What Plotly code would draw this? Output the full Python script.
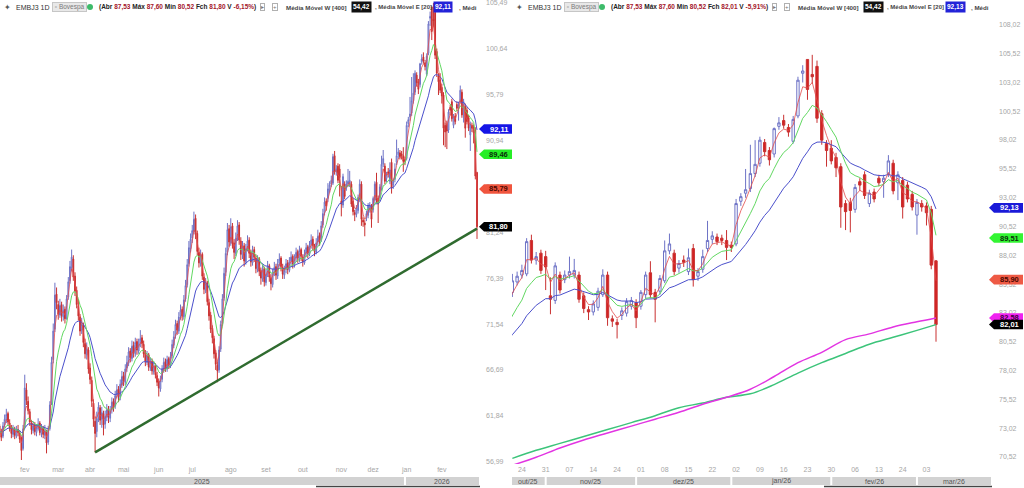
import pandas as pd
import plotly.graph_objects as go

# ---------------- data ----------------
holidays = ["2025-03-03", "2025-03-04", "2025-04-18", "2025-04-21", "2025-05-01", "2025-06-19",
            "2025-11-20", "2025-12-24", "2025-12-25", "2025-12-31", "2026-01-01", "2026-02-16",
            "2026-02-17"]

opens = [
    60.8, 60.1, 59.7, 60.9, 61.4, 62.1, 61.1, 60.7, 59.9, 60.5, 59.7, 60.4, 60.0, 59.5, 58.4,
    60.7, 64.6, 63.4, 62.3, 61.1, 60.3, 60.9, 60.1, 60.5, 61.1, 60.0, 60.6, 59.8, 60.2, 59.1, 60.5,
    63.2, 67.8, 71.0, 74.7, 73.6, 72.5, 73.6, 72.3, 73.1, 72.2, 74.4, 76.1, 77.5, 78.4, 76.6, 75.1,
    73.5, 72.3, 70.9, 71.4, 69.5, 68.3, 68.8, 66.9, 65.6, 63.2, 61.3, 60.2,
    61.7, 62.7, 61.5, 62.1, 61.0, 61.7, 62.6, 61.6, 62.5, 63.4, 62.9, 64.1, 64.7, 63.8, 65.1, 66.1,
    65.4, 66.9, 67.4, 68.7, 67.9, 69.3, 68.4, 69.7, 68.7, 69.5,
    70.1, 69.4, 68.5, 67.5, 68.3, 66.9, 67.6, 66.5, 67.2, 66.1, 65.5, 64.7, 65.7, 66.7, 67.6, 66.8,
    67.9, 67.1, 68.2, 69.3, 70.3, 71.6, 70.8, 72.4, 73.1, 72.3, 74.2, 75.7, 77.9, 79.5, 80.6, 81.3,
    82.7, 81.1, 79.1, 77.9, 78.9, 76.5, 75.1, 75.9, 73.8, 72.5, 71.1, 70.0, 68.5, 67.2,
    66.7, 68.9, 71.6, 74.3, 77.0, 79.1, 81.6, 80.1, 81.9, 80.1, 79.0, 80.7, 82.0, 80.3, 78.8, 79.8,
    78.1, 79.6, 80.4, 79.1, 78.0, 79.4, 78.5, 77.3, 78.4, 77.2, 76.3, 77.4, 75.9, 76.9, 77.7, 76.4,
    75.7, 77.0, 77.6, 76.6, 78.0, 78.5, 77.5,
    76.7, 77.3, 78.0, 77.2, 78.2, 78.7, 77.8, 78.5, 79.2, 78.4, 79.4, 78.6, 78.0, 79.0, 79.7, 78.9,
    79.9, 80.5, 79.7, 79.1, 80.2, 80.9, 80.4, 82.0, 83.3, 84.5,
    84.8, 85.7, 86.3, 86.4, 89.3, 87.6, 88.2, 87.9, 84.5, 84.1, 86.3, 85.9, 86.3, 86.3, 86.3, 84.5,
    83.3, 83.1, 83.5, 84.6, 86.3, 82.5, 82.2, 82.8, 83.0, 83.6, 83.9, 83.6, 84.6, 86.5, 84.8, 84.9,
    85.8, 88.4, 88.2, 86.9, 87.6, 86.6, 88.6, 86.2, 86.8, 88.6, 89.4, 89.6, 89.5, 89.3, 88.9, 89.0,
    92.7, 93.4, 93.8, 95.1, 96.0, 97.8, 97.1, 96.8, 99.2, 99.7, 99.1, 97.9, 100.1, 103.8, 105.0,
    103.7, 104.4, 100.3, 97.7, 97.3, 96.5, 95.7, 92.5, 92.6, 92.0, 94.4, 95.0, 92.5, 93.5, 94.7,
    94.4, 95.1, 96.0, 94.3, 94.5, 94.1, 93.3, 91.5, 92.5, 92.3, 92.0, 87.53]

highs = [
    61.0, 60.5, 61.2, 62.0, 62.6, 62.3, 61.5, 60.9, 60.9, 60.7, 60.8, 60.9, 60.3, 59.7, 60.9,
    66.2, 65.3, 63.9, 62.6, 61.4, 61.3, 61.2, 61.0, 61.6, 61.3, 61.0, 60.8, 60.9, 60.4, 60.8, 63.4,
    68.1, 71.6, 75.9, 75.4, 74.0, 74.2, 73.9, 73.6, 73.4, 74.6, 76.5, 78.2, 79.4, 78.8, 77.0, 75.5,
    74.1, 72.6, 72.2, 71.7, 70.0, 69.6, 69.1, 67.4, 66.0, 63.6, 61.8, 62.3,
    63.3, 63.0, 62.8, 62.4, 62.4, 63.1, 62.9, 62.9, 63.8, 63.7, 64.5, 65.2, 65.0, 65.7, 66.6, 66.5,
    67.3, 68.2, 69.1, 69.0, 69.8, 69.7, 70.1, 70.0, 70.0, 70.9,
    70.4, 69.8, 68.8, 68.7, 68.5, 68.0, 67.9, 67.6, 67.4, 66.5, 65.8, 66.1, 67.2, 68.0, 67.9, 68.2,
    68.1, 68.6, 69.9, 70.8, 72.0, 71.9, 72.8, 73.6, 73.4, 74.6, 76.2, 78.4, 80.3, 81.1, 82.0, 83.4,
    83.1, 81.4, 79.6, 79.4, 79.1, 76.9, 76.4, 76.1, 74.2, 72.8, 71.4, 70.3, 68.8, 67.6,
    69.2, 71.9, 74.7, 77.5, 79.6, 82.2, 82.0, 82.7, 82.2, 80.5, 81.2, 82.5, 82.3, 80.7, 80.3, 80.1,
    80.0, 80.9, 80.7, 79.4, 79.8, 79.7, 78.9, 78.8, 78.6, 77.5, 77.8, 77.6, 77.3, 78.2, 77.9, 76.8,
    77.4, 78.1, 77.9, 78.4, 79.0, 78.7, 77.9,
    77.7, 78.4, 78.3, 78.6, 79.2, 78.9, 78.9, 79.6, 79.4, 79.8, 79.6, 78.9, 79.4, 80.1, 79.9, 80.3,
    81.0, 80.8, 80.0, 80.6, 81.5, 81.2, 82.4, 83.7, 84.9, 84.8,
    86.4, 86.6, 87.2, 89.5, 89.8, 88.3, 88.5, 88.4, 86.1, 87.4, 86.6, 86.7, 87.9, 87.7, 86.6, 84.8,
    83.6, 84.1, 85.2, 86.8, 86.6, 82.8, 82.5, 83.5, 84.3, 84.4, 84.2, 85.0, 86.6, 87.5, 85.1, 86.3,
    89.3, 89.9, 88.5, 87.6, 88.0, 88.6, 89.0, 86.9, 88.5, 91.0, 90.1, 89.9, 89.8, 90.2, 89.2, 92.9,
    93.4, 95.5, 97.6, 98.0, 98.3, 98.1, 97.4, 99.1, 100.0, 100.2, 99.4, 100.1, 103.5, 104.5, 105.0,
    105.4, 104.9, 100.6, 98.0, 98.0, 96.9, 96.0, 92.8, 93.0, 94.2, 94.7, 95.3, 93.7, 93.8, 95.0,
    95.0, 96.7, 96.3, 95.3, 94.8, 94.4, 93.6, 92.9, 92.8, 92.6, 92.3, 87.60]

lows = [
    59.4, 59.2, 59.5, 60.6, 61.1, 60.9, 60.2, 59.5, 59.6, 59.4, 59.5, 59.7, 59.0, 57.2, 58.2,
    60.5, 63.0, 62.0, 60.8, 59.9, 60.0, 59.8, 59.7, 60.3, 59.8, 59.6, 59.5, 59.4, 57.9, 58.8, 60.3,
    63.0, 67.4, 70.7, 73.1, 72.0, 72.2, 71.8, 71.9, 71.6, 72.0, 74.1, 75.8, 77.1, 76.1, 74.5, 73.2,
    71.9, 70.3, 70.5, 69.1, 67.9, 67.8, 66.3, 65.2, 62.8, 60.7, 58.0, 59.6,
    61.2, 60.9, 60.6, 59.8, 60.5, 61.3, 61.1, 61.2, 62.1, 62.3, 62.6, 63.7, 63.3, 63.5, 64.8, 65.0,
    65.1, 66.5, 67.1, 67.5, 67.6, 68.0, 68.1, 68.3, 68.4, 69.1,
    69.0, 68.0, 67.1, 67.2, 66.6, 66.6, 66.2, 66.2, 65.8, 65.0, 63.9, 64.4, 65.4, 66.4, 66.5, 66.5,
    66.8, 66.9, 67.9, 69.0, 70.0, 70.4, 70.5, 72.0, 71.9, 72.0, 73.9, 75.4, 77.6, 79.1, 80.1, 81.0,
    80.5, 78.8, 77.5, 77.6, 76.2, 74.7, 74.8, 73.5, 71.9, 70.6, 69.5, 67.9, 66.7, 65.4,
    66.4, 68.6, 71.3, 74.0, 76.6, 78.8, 79.7, 79.8, 79.5, 78.4, 78.7, 80.3, 79.9, 78.3, 78.4, 77.6,
    77.8, 79.2, 78.5, 77.6, 77.7, 78.1, 76.9, 77.0, 76.6, 75.7, 76.0, 75.5, 75.6, 76.5, 76.0, 75.1,
    75.4, 76.6, 76.2, 76.3, 77.6, 77.1, 76.3,
    76.3, 76.9, 76.8, 77.0, 77.8, 77.4, 77.5, 78.1, 78.0, 78.1, 78.2, 77.6, 77.8, 78.6, 78.5, 78.7,
    79.5, 79.3, 78.7, 78.9, 79.8, 79.8, 80.2, 81.7, 83.0, 83.5,
    84.4, 85.4, 86.0, 86.2, 87.3, 87.2, 86.4, 85.0, 82.9, 83.8, 84.7, 85.6, 86.0, 86.0, 83.9, 83.0,
    82.4, 82.8, 83.2, 84.4, 81.9, 81.8, 80.8, 82.4, 82.7, 83.3, 81.7, 83.3, 84.3, 84.3, 82.2, 84.6,
    85.6, 88.1, 86.3, 86.5, 87.0, 86.3, 85.3, 85.8, 86.5, 88.3, 89.0, 88.9, 88.9, 87.6, 88.3, 88.8,
    92.3, 93.0, 93.5, 94.8, 95.7, 96.6, 95.8, 96.5, 98.9, 99.0, 98.3, 97.7, 99.9, 103.0, 101.5,
    102.9, 99.5, 97.6, 95.7, 95.9, 94.8, 90.4, 90.2, 90.0, 91.7, 93.6, 92.9, 92.2, 92.6, 94.0,
    93.0, 94.8, 93.3, 92.8, 91.2, 92.6, 91.9, 89.8, 91.8, 90.6, 86.8, 80.52]

closes = [
    60.2, 59.6, 60.8, 61.5, 62.0, 61.2, 60.6, 60.0, 60.4, 59.8, 60.3, 60.1, 59.4, 58.2, 60.5,
    64.8, 63.5, 62.4, 61.2, 60.4, 60.8, 60.2, 60.6, 61.0, 60.1, 60.5, 59.9, 60.3, 59.0, 60.4, 63.0,
    67.5, 70.8, 74.6, 73.8, 72.6, 73.5, 72.4, 73.0, 72.1, 74.2, 76.0, 77.6, 78.6, 76.5, 75.0, 73.6,
    72.4, 70.8, 71.5, 69.6, 68.4, 68.9, 66.8, 65.7, 63.4, 61.5, 60.0, 61.6,
    62.8, 61.4, 62.2, 60.9, 61.8, 62.5, 61.7, 62.4, 63.3, 62.8, 64.0, 64.6, 63.9, 65.2, 66.0, 65.5,
    66.8, 67.5, 68.6, 68.0, 69.2, 68.5, 69.6, 68.8, 69.4, 70.0,
    69.5, 68.4, 67.6, 68.2, 67.0, 67.5, 66.6, 67.1, 66.2, 65.4, 64.8, 65.6, 66.8, 67.5, 66.9, 67.8,
    67.2, 68.1, 69.4, 70.2, 71.5, 70.9, 72.3, 73.0, 72.4, 74.1, 75.6, 77.8, 79.6, 80.5, 81.4, 82.6,
    81.0, 79.2, 78.0, 78.8, 76.6, 75.2, 75.8, 73.9, 72.4, 71.0, 70.1, 68.4, 67.3, 66.6,
    68.8, 71.5, 74.2, 76.9, 79.0, 81.5, 80.2, 81.8, 80.0, 79.1, 80.6, 81.9, 80.4, 78.9, 79.7, 78.2,
    79.5, 80.3, 79.0, 78.1, 79.3, 78.6, 77.4, 78.3, 77.1, 76.4, 77.3, 76.0, 76.8, 77.6, 76.5, 75.8,
    76.9, 77.5, 76.7, 77.9, 78.4, 77.6, 76.8,
    77.2, 77.9, 77.3, 78.1, 78.6, 77.9, 78.4, 79.1, 78.5, 79.3, 78.7, 78.1, 78.9, 79.6, 79.0, 79.8,
    80.4, 79.8, 79.2, 80.1, 80.8, 80.3, 81.9, 83.2, 84.4, 84.0,
    85.8, 86.2, 86.7, 89.2, 87.6, 87.9, 86.7, 87.0, 84.2, 87.1, 85.0, 86.3, 86.6, 86.7, 84.2, 83.4,
    83.1, 83.8, 84.9, 86.3, 82.6, 82.3, 82.0, 83.2, 84.0, 84.1, 82.6, 84.8, 86.3, 84.6, 84.2, 86.0,
    88.4, 89.0, 86.6, 87.3, 87.4, 87.8, 85.9, 86.6, 87.9, 89.3, 89.7, 89.2, 89.3, 88.7, 88.7, 92.5,
    93.1, 93.7, 95.1, 95.9, 98.0, 97.0, 96.3, 99.0, 99.5, 99.3, 98.7, 99.8, 103.2, 104.0, 102.4,
    103.5, 99.9, 98.0, 97.1, 96.2, 95.6, 92.2, 91.8, 91.9, 93.9, 94.1, 93.2, 93.4, 92.9, 94.3,
    94.7, 96.2, 93.6, 95.0, 92.2, 92.9, 92.2, 92.6, 92.2, 91.7, 87.16, 82.01]

last_close_left = 81.80   # left snapshot shows Fch 81,80

long_ma_dates = ["2025-10-22", "2025-10-29", "2025-11-05", "2025-11-12", "2025-11-19", "2025-11-27",
                 "2025-12-04", "2025-12-11", "2025-12-18", "2025-12-29", "2026-01-07", "2026-01-14",
                 "2026-01-21", "2026-01-28", "2026-02-04", "2026-02-11", "2026-02-20", "2026-02-27",
                 "2026-03-05"]
long_ma_green = [70.4, 71.1, 71.7, 72.3, 72.9, 73.5, 74.1, 74.8, 75.2, 75.7, 76.0, 76.8, 77.8, 78.7,
                 79.5, 80.3, 80.9, 81.5, 82.0]
long_ma_magenta = [69.8, 70.5, 71.3, 72.0, 72.6, 73.2, 73.8, 74.4, 75.1, 75.7, 76.4, 77.5, 78.7, 79.6,
                   80.7, 81.2, 81.8, 82.25, 82.58]

trend_dates = ["2025-04-04", "2026-03-05"]
trend_values = [58.0, 81.6]

months_pt = ["jan", "fev", "mar", "abr", "mai", "jun", "jul", "ago", "set", "out", "nov", "dez"]
left_tick_months = ["2025-02", "2025-03", "2025-04", "2025-05", "2025-06", "2025-07", "2025-08",
                    "2025-09", "2025-10", "2025-11", "2025-12", "2026-01", "2026-02"]
right_tick_dates = ["2025-10-24", "2025-10-31", "2025-11-07", "2025-11-14", "2025-11-24", "2025-12-01",
                    "2025-12-08", "2025-12-15", "2025-12-22", "2026-01-02", "2026-01-09", "2026-01-16",
                    "2026-01-23", "2026-01-30", "2026-02-06", "2026-02-13", "2026-02-24", "2026-03-03"]
right_band_months = ["2025-11", "2025-12", "2026-01", "2026-02", "2026-03"]
right_band_labels = ["out/25", "nov/25", "dez/25", "jan/26", "fev/26", "mar/26"]
left_band_labels = ["2025", "2026"]

left_yticks = [56.99, 61.84, 66.69, 71.54, 76.39, 81.24, 86.09, 90.94, 95.79, 100.64, 105.49]
right_yticks = [70.52, 73.02, 75.52, 78.02, 80.52, 83.02, 85.52, 88.02, 90.52, 93.02, 95.52, 98.02,
                100.52, 103.02, 105.52, 108.02]

left_tag_values = [92.11, 89.46, 85.79, 81.80]
right_tag_values = [92.13, 89.51, 85.90, 82.58, 82.01]

# ---------------- geometry helpers ----------------
W, H = 1024, 488
BOT = 464
FONT = "Liberation Sans"

def fx(p):
    return p / W

def fy(p):
    return 1 - p / H

L_X_END, L_STEP = 477.0, 1.675
R_X_END, R_STEP = 936.0, 4.76

def ly(v):
    return 462 - (v - 56.99) * 9.48

def ry(v):
    return 457 - (v - 70.52) * 11.53

days = pd.bdate_range("2025-01-13", "2026-03-05")
days = days[~days.isin(pd.to_datetime(holidays))]
n = len(closes)
days = days[len(days) - n:]
idx = list(range(n))
pos = {d: k for k, d in enumerate(days)}
last = n - 1

def lx(i):
    return L_X_END - (last - i) * L_STEP

def rx(i):
    return R_X_END - (last - i) * R_STEP

closes_left = closes[:-1] + [last_close_left]

def ema(vals, span):
    return pd.Series(vals).ewm(span=span, adjust=False).mean().tolist()

fig = go.Figure()

inc = dict(line=dict(color="#6d72c6", width=1), fillcolor="#ffffff")
dec = dict(line=dict(color="#c93030", width=1), fillcolor="#d32222")

# left panel
fig.add_trace(go.Candlestick(x=idx, open=opens, high=highs, low=lows, close=closes_left,
                             increasing=inc, decreasing=dec, xaxis="x", yaxis="y",
                             hoverinfo="skip", whiskerwidth=0))
for span, col, w in [(20, "#4b50cc", 1), (9, "#62d862", 1), (3, "#e24a4a", 0.8)]:
    fig.add_trace(go.Scatter(x=idx, y=ema(closes_left, span), mode="lines",
                             line=dict(color=col, width=w), xaxis="x", yaxis="y", hoverinfo="skip"))
fig.add_trace(go.Scatter(x=[pos[pd.Timestamp(d)] for d in trend_dates], y=trend_values, mode="lines",
                         line=dict(color="#2f6b2f", width=2.5), xaxis="x", yaxis="y", hoverinfo="skip"))

# right panel
ma_x = [pos[pd.Timestamp(d)] for d in long_ma_dates]
fig.add_trace(go.Scatter(x=ma_x, y=long_ma_green, mode="lines", line=dict(color="#3cc47a", width=1.5, shape="spline"),
                         xaxis="x2", yaxis="y2", hoverinfo="skip"))
fig.add_trace(go.Scatter(x=ma_x, y=long_ma_magenta, mode="lines", line=dict(color="#e234e2", width=1.5, shape="spline"),
                         xaxis="x2", yaxis="y2", hoverinfo="skip"))
fig.add_trace(go.Candlestick(x=idx, open=opens, high=highs, low=lows, close=closes,
                             increasing=inc, decreasing=dec, xaxis="x2", yaxis="y2",
                             hoverinfo="skip", whiskerwidth=0))
for span, col, w in [(20, "#4b50cc", 1), (9, "#62d862", 1), (3, "#e24a4a", 0.8)]:
    fig.add_trace(go.Scatter(x=idx, y=ema(closes, span), mode="lines",
                             line=dict(color=col, width=w), xaxis="x2", yaxis="y2", hoverinfo="skip"))

fmt = lambda v: f"{v:.2f}".replace(".", ",")

month_first = {}
for k, d in enumerate(days):
    month_first.setdefault(d.strftime("%Y-%m"), k)
lt_vals = [month_first[m] for m in left_tick_months]
lt_text = [months_pt[int(m[5:]) - 1] for m in left_tick_months]
rt_vals = [pos[pd.Timestamp(d)] for d in right_tick_dates]
rt_text = [d[8:] for d in right_tick_dates]

tickfont = dict(family=FONT, size=7, color="#a6a6a6")
ydom = [fy(BOT), 1]
axis_common = dict(showgrid=False, zeroline=False, showline=False, ticks="", tickfont=tickfont,
                   fixedrange=True, ticklabeloverflow="allow")

fig.update_layout(
    width=W, height=H, margin=dict(l=0, r=0, t=0, b=0), template="none",
    paper_bgcolor="white", plot_bgcolor="white", showlegend=False,
    xaxis=dict(domain=[0, fx(482)], anchor="y",
               range=[last - L_X_END / L_STEP, last + (482 - L_X_END) / L_STEP],
               tickvals=lt_vals, ticktext=lt_text, rangeslider=dict(visible=False), **axis_common),
    yaxis=dict(domain=ydom, anchor="x", side="right",
               range=[56.99 - (BOT - 462) / 9.48, 56.99 + 462 / 9.48],
               tickvals=left_yticks, ticktext=[fmt(v) for v in left_yticks], ticklabelstandoff=3,
               **axis_common),
    xaxis2=dict(domain=[fx(512), fx(990)], anchor="y2",
                range=[last - (R_X_END - 512) / R_STEP, last + (990 - R_X_END) / R_STEP],
                tickvals=rt_vals, ticktext=rt_text, rangeslider=dict(visible=False), **axis_common),
    yaxis2=dict(domain=ydom, anchor="x2", side="right",
                range=[70.52 - (BOT - 457) / 11.53, 70.52 + 457 / 11.53],
                tickvals=right_yticks, ticktext=[fmt(v) for v in right_yticks], ticklabelstandoff=8,
                **axis_common),
)

shapes = []
annots = []

def note(x, y, text, size, color, xanchor="center"):
    annots.append(dict(x=fx(x), y=fy(y), xref="paper", yref="paper", xanchor=xanchor, yanchor="middle",
                       text=text, showarrow=False, font=dict(family=FONT, size=size, color=color)))

# bottom bands
BAND_Y0, BAND_Y1 = 477, 485
def band(x0, x1, label):
    shapes.append(dict(type="rect", xref="paper", yref="paper", x0=fx(x0), x1=fx(x1),
                       y0=fy(BAND_Y1), y1=fy(BAND_Y0), fillcolor="#d2d2d2", line=dict(width=0), layer="below"))
    note((x0 + x1) / 2, (BAND_Y0 + BAND_Y1) / 2, label, 7, "#555555")

b_left = lx(month_first["2026-01"] - 1)
band(0, b_left - 1, left_band_labels[0])
band(b_left + 1, 479, left_band_labels[1])

edges = [512] + [rx(month_first[m] - 1) for m in right_band_months] + [992]
for j, lab in enumerate(right_band_labels):
    band(edges[j] + (1 if j > 0 else 0), edges[j + 1] - 1, lab)

for x0, x1 in [(316, 480), (824, 992)]:
    shapes.append(dict(type="line", xref="paper", yref="paper", x0=fx(x0), x1=fx(x1), y0=fy(486.5),
                       y1=fy(486.5), line=dict(color="#444444", width=1.5)))

# price tags
def tag(tip, x0, x1, yc, fill, textcol, text):
    h = 4.8
    path = (f"M {fx(tip)},{fy(yc)} L {fx(x0)},{fy(yc - h)} L {fx(x1)},{fy(yc - h)} "
            f"L {fx(x1)},{fy(yc + h)} L {fx(x0)},{fy(yc + h)} Z")
    shapes.append(dict(type="path", xref="paper", yref="paper", path=path, fillcolor=fill,
                       line=dict(width=0), layer="above"))
    note((x0 + x1) / 2 + 0.5, yc, f"<b>{text}</b>", 7.5, textcol)

left_tag_style = [("#1515e6", "#ffffff"), ("#26ee26", "#0a2e0a"), ("#f0553e", "#4a0800"), ("#000000", "#ffffff")]
for v, (fc, tc) in zip(left_tag_values, left_tag_style):
    tag(479, 484, 512, ly(v), fc, tc, fmt(v))
right_tag_style = [("#1a1ad8", "#ffffff"), ("#33f533", "#0a2e0a"), ("#ee5a45", "#4a0800"),
                   ("#f022f0", "#3a003a"), ("#000000", "#ffffff")]
for v, (fc, tc) in zip(right_tag_values, right_tag_style):
    tag(989, 994, 1023, ry(v), fc, tc, fmt(v))

# headers
def header(off, fch, var, ema20):
    y = fy(7)
    def add(x, text, color="#333333", size=6.5, bg=None, border=None, pad=0):
        a = dict(x=fx(off + x), y=y, xref="paper", yref="paper", xanchor="left", yanchor="middle",
                 text=text, showarrow=False, font=dict(family=FONT, size=size, color=color))
        if bg:
            a["bgcolor"] = bg
            a["borderpad"] = pad
        if border:
            a["bordercolor"] = border
            a["borderwidth"] = 1
        annots.append(a)
    add(2, "✦", "#555555", 8)
    add(14, "EMBJ3 1D", "#333333", 7)
    add(52, " ▫ Bovespa ", "#7a7a7a", 6.5, bg="#e8e8e8", border="#c6c6c6", pad=0)
    shapes.append(dict(type="circle", xref="paper", yref="paper", x0=fx(off + 87), x1=fx(off + 93),
                       y0=fy(10), y1=fy(4), fillcolor="#3dbb6a", line=dict(width=0)))
    r = "<span style='color:#a3142a'>"
    add(97, f"<b>(Abr {r}87,53</span> Máx {r}87,60</span> Mín {r}80,52</span> Fch {r}{fch}</span> "
            f"V {r}{var}</span>)</b>", "#222222", 6.5)
    add(260, "▸", "#777777", 6, bg="#ffffff", border="#b0b0b0", pad=0)
    add(272, "+", "#777777", 6, bg="#ffffff", border="#b0b0b0", pad=0)
    add(284, "<b>Média Móvel W [400]</b>", "#444444", 6.2)
    add(351, "<b>54,42</b>", "#ffffff", 6.5, bg="#111111", pad=1)
    add(373, "<b>, Média Móvel E [20]</b>", "#444444", 6.0)
    add(433, f"<b>{ema20}</b>", "#ffffff", 6.5, bg="#2323d8", pad=1)
    add(457, "<b>, Médi</b>", "#444444", 6.2)

header(0, "81,80", "-6,15%", "92,11")
header(512, "82,01", "-5,91%", "92,13")

fig.update_layout(shapes=shapes, annotations=annots)
fig.write_html("out.html")
